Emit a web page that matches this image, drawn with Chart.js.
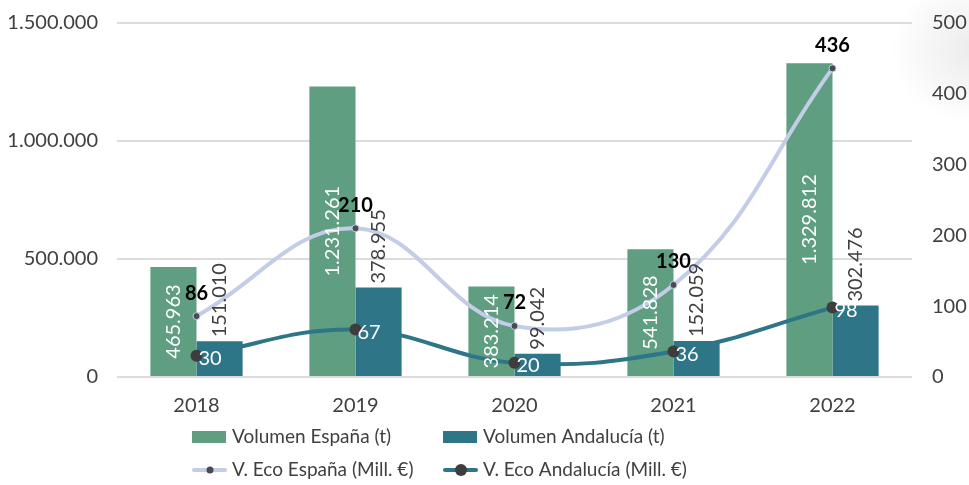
<!DOCTYPE html>
<html>
<head>
<meta charset="utf-8">
<script src="https://cdn.jsdelivr.net/npm/chart.js@4.4.0/dist/chart.umd.min.js"></script>
<style>
  html, body { margin: 0; padding: 0; background: #fff; }
  body {
    width: 969px; height: 485px; overflow: hidden;
    background: radial-gradient(ellipse 85px 75px at 975px 50px, rgba(0,0,0,0.08), rgba(0,0,0,0) 100%), #fff;
  }
  #wrap { position: relative; width: 969px; height: 485px; }
</style>
</head>
<body>
<div id="wrap"><canvas id="chart" width="969" height="485"></canvas></div>
<script>
const years = ["2018", "2019", "2020", "2021", "2022"];
const volEspana = [465963, 1231261, 383214, 541828, 1329812];
const volAndalucia = [151010, 378955, 99042, 152059, 302476];
const ecoEspana = [86, 210, 72, 130, 436];
const ecoAndalucia = [30, 67, 20, 36, 98];
const leftTicks = [0, 500000, 1000000, 1500000];
const rightTicks = [0, 100, 200, 300, 400, 500];

const green = "#5f9e80";
const teal = "#2e7587";
const lavender = "#c3cde8";
const dark = "#3d3d3d";
const FONT = "Lato, 'Open Sans', sans-serif";

function fmt(v) {
  return String(v).replace(/\B(?=(\d{3})+(?!\d))/g, ".");
}

const labelPlugin = {
  id: "labels",
  afterDatasetsDraw(chart) {
    const ctx = chart.ctx;
    ctx.save();
    // bar labels
    chart.getDatasetMeta(0).data.forEach((bar, i) => {
      ctx.save();
      ctx.translate(bar.x, (bar.y + bar.base) / 2);
      ctx.rotate(-Math.PI / 2);
      ctx.font = "20px " + FONT;
      ctx.fillStyle = "#ffffff";
      ctx.textAlign = "center";
      ctx.textBaseline = "middle";
      ctx.fillText(fmt(volEspana[i]), 0, 0);
      ctx.restore();
    });
    chart.getDatasetMeta(1).data.forEach((bar, i) => {
      ctx.save();
      ctx.translate(bar.x, bar.y - 4);
      ctx.rotate(-Math.PI / 2);
      ctx.font = "20px " + FONT;
      ctx.fillStyle = "#404040";
      ctx.textAlign = "left";
      ctx.textBaseline = "middle";
      ctx.fillText(fmt(volAndalucia[i]), 0, 0);
      ctx.restore();
    });
    // line labels
    chart.getDatasetMeta(2).data.forEach((pt, i) => {
      ctx.font = "bold 20px " + FONT;
      ctx.fillStyle = "#000";
      ctx.textAlign = "center";
      ctx.textBaseline = "middle";
      ctx.fillText(ecoEspana[i], pt.x, pt.y - 23);
    });
    chart.getDatasetMeta(3).data.forEach((pt, i) => {
      ctx.font = "20px " + FONT;
      ctx.fillStyle = "#fff";
      ctx.textAlign = "left";
      ctx.textBaseline = "middle";
      ctx.fillText(ecoAndalucia[i], pt.x + 2, pt.y + 3);
    });
    ctx.restore();
  },
  afterDraw(chart) {
    // legend, two rows in two columns
    const ctx = chart.ctx;
    const cols = [192, 443];
    const rows = [437, 470];
    const items = chart.data.datasets;
    ctx.save();
    ctx.font = "19px " + FONT;
    ctx.textBaseline = "middle";
    ctx.textAlign = "left";
    items.forEach((ds, i) => {
      const x = cols[i % 2];
      const y = rows[Math.floor(i / 2)];
      if (ds.type === "bar") {
        ctx.fillStyle = ds.backgroundColor;
        ctx.fillRect(x, y - 6, 34, 12);
      } else {
        ctx.strokeStyle = ds.borderColor;
        ctx.lineWidth = ds.borderWidth;
        ctx.lineCap = "round";
        ctx.beginPath();
        ctx.moveTo(x + 2, y);
        ctx.lineTo(x + 33, y);
        ctx.stroke();
        ctx.fillStyle = ds.pointBackgroundColor;
        ctx.beginPath();
        ctx.arc(x + 18, y, ds.pointRadius, 0, Math.PI * 2);
        ctx.fill();
      }
      ctx.fillStyle = "#404040";
      ctx.fillText(ds.label, x + 40, y);
    });
    ctx.restore();
  }
};

const config = {
  data: {
    labels: years,
    datasets: [
      {
        type: "bar",
        label: "Volumen España (t)",
        data: volEspana,
        backgroundColor: green,
        yAxisID: "y",
        categoryPercentage: 0.58,
        barPercentage: 1.0,
        order: 2,
      },
      {
        type: "bar",
        label: "Volumen Andalucía (t)",
        data: volAndalucia,
        backgroundColor: teal,
        yAxisID: "y",
        categoryPercentage: 0.58,
        barPercentage: 1.0,
        order: 2,
      },
      {
        type: "line",
        label: "V. Eco España (Mill. €)",
        data: ecoEspana,
        borderColor: lavender,
        borderWidth: 4,
        tension: 0.4,
        pointRadius: 3.5,
        pointBackgroundColor: "#4a4a52",
        pointBorderColor: lavender,
        pointBorderWidth: 1,
        yAxisID: "y1",
        order: 0,
      },
      {
        type: "line",
        label: "V. Eco Andalucía (Mill. €)",
        data: ecoAndalucia,
        borderColor: teal,
        borderWidth: 4,
        tension: 0.4,
        pointRadius: 6,
        pointBackgroundColor: dark,
        pointBorderColor: dark,
        pointBorderWidth: 0,
        yAxisID: "y1",
        order: 1,
      },
    ],
  },
  options: {
    responsive: false,
    animation: false,
    layout: { padding: { top: 23, bottom: 0, left: 0, right: 0 } },
    plugins: {
      legend: { display: false },
      tooltip: { enabled: false },
    },
    scales: {
      x: {
        grid: { display: false, drawTicks: false },
        border: { display: false },
        ticks: {
          color: "#404040",
          font: { family: FONT, size: 20 },
          padding: 17,
        },
        afterFit(scale) { scale.height = 108; },
      },
      y: {
        position: "left",
        min: 0,
        max: 1500000,
        afterBuildTicks(scale) { scale.ticks = leftTicks.map((v) => ({ value: v })); },
        grid: { color: "#dcdcdc", lineWidth: 2, drawTicks: false },
        border: { display: false },
        ticks: {
          color: "#404040",
          font: { family: FONT, size: 20 },
          padding: 19,
          callback: (v) => fmt(v),
        },
        afterFit(scale) { scale.width = 117; scale.paddingTop = 0; scale.paddingBottom = 0; },
      },
      y1: {
        position: "right",
        min: 0,
        max: 500,
        afterBuildTicks(scale) { scale.ticks = rightTicks.map((v) => ({ value: v })); },
        grid: { display: false, drawTicks: false },
        border: { display: false },
        ticks: {
          color: "#404040",
          font: { family: FONT, size: 20 },
          padding: 20,
        },
        afterFit(scale) { scale.width = 57; scale.paddingTop = 0; scale.paddingBottom = 0; },
      },
    },
  },
  plugins: [labelPlugin],
};

new Chart(document.getElementById("chart"), config);
</script>
</body>
</html>
